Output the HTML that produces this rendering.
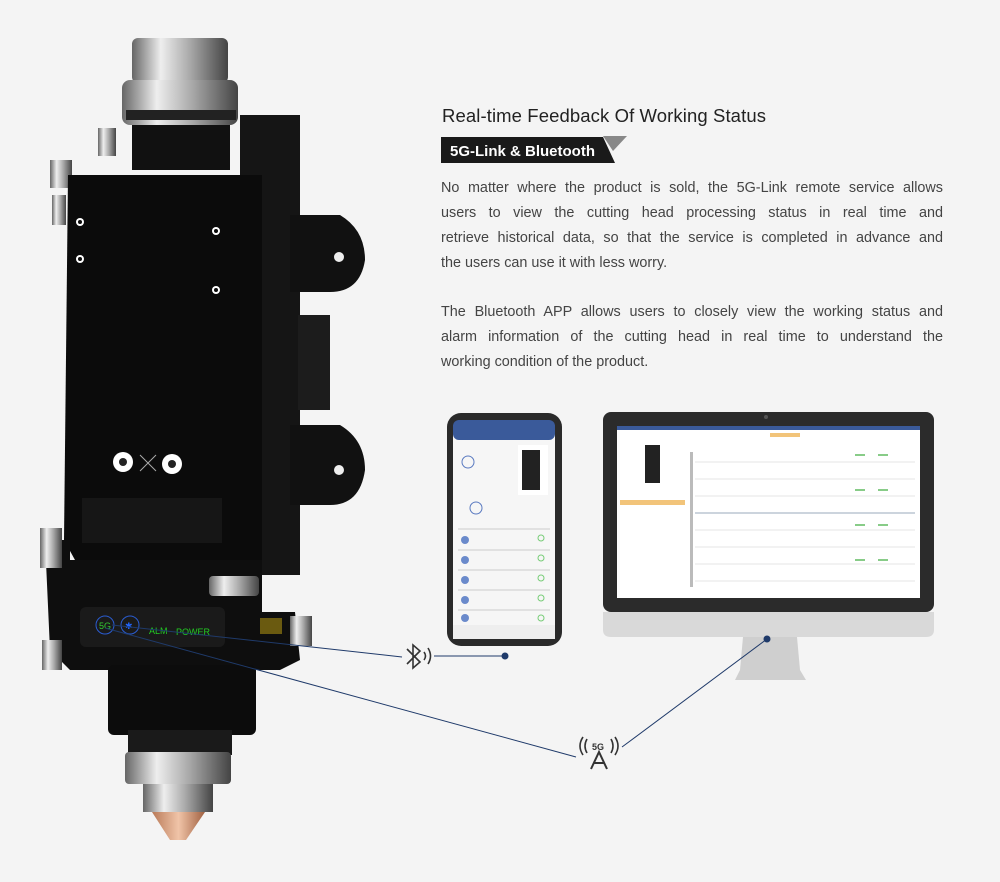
<!DOCTYPE html>
<html><head><meta charset="utf-8"><style>
body{margin:0;width:1000px;height:882px;background:#f4f4f4;position:relative;overflow:hidden;font-family:"Liberation Sans",sans-serif}
.h{position:absolute;left:442px;top:105px;font-size:18.5px;color:#222;letter-spacing:0.1px}
.tag{position:absolute;left:441px;top:136px;height:28px;width:186px}
.p{position:absolute;left:441px;width:502px;font-size:14.4px;line-height:25px;color:#444}
.p div{text-align:justify;text-align-last:justify;white-space:nowrap}
.p div.l{text-align-last:left}
</style></head><body>
<div class="h">Real-time Feedback Of Working Status</div>
<svg class="tag" viewBox="0 0 186 28"><polygon points="162,0 186,0 172,15" fill="#888"/><polygon points="0,1 162,1 174,27 0,27" fill="#1a1a1a"/><text x="9" y="20" font-size="15" font-weight="bold" fill="#fff" font-family="Liberation Sans">5G-Link &amp; Bluetooth</text></svg>
<div class="p" style="top:176px">
<div>No matter where the product is sold, the 5G-Link remote service allows</div>
<div>users to view the cutting head processing status in real time and</div>
<div>retrieve historical data, so that the service is completed in advance and</div>
<div class="l">the users can use it with less worry.</div></div>
<div class="p" style="top:300px">
<div>The Bluetooth APP allows users to closely view the working status and</div>
<div>alarm information of the cutting head in real time to understand the</div>
<div class="l">working condition of the product.</div></div>
<svg style="position:absolute;left:0;top:0" width="1000" height="882">
<defs>
<linearGradient id="sil" x1="0" x2="1"><stop offset="0" stop-color="#666"/><stop offset=".3" stop-color="#eee"/><stop offset=".6" stop-color="#aaa"/><stop offset="1" stop-color="#444"/></linearGradient>
<linearGradient id="cop" x1="0" x2="1"><stop offset="0" stop-color="#b97a58"/><stop offset=".5" stop-color="#f0c4a8"/><stop offset="1" stop-color="#a06040"/></linearGradient>
</defs>
<rect x="132" y="38" width="96" height="45" rx="6" fill="url(#sil)"/>
<rect x="122" y="80" width="116" height="45" rx="8" fill="url(#sil)"/>
<rect x="126" y="110" width="110" height="10" fill="#222"/>
<rect x="132" y="125" width="98" height="45" fill="#111"/>
<rect x="50" y="160" width="22" height="28" fill="url(#sil)"/><rect x="98" y="128" width="18" height="28" fill="url(#sil)"/>
<rect x="52" y="195" width="14" height="30" fill="url(#sil)"/>
<rect x="240" y="115" width="60" height="460" fill="#151515"/>
<path d="M290 215 L340 215 Q365 230 365 260 Q360 292 330 292 L290 292Z" fill="#111"/>
<path d="M290 425 L340 425 Q365 440 365 470 Q360 505 330 505 L290 505Z" fill="#111"/>
<circle cx="339" cy="257" r="5" fill="#eee"/><circle cx="339" cy="470" r="5" fill="#eee"/>
<rect x="298" y="315" width="32" height="95" fill="#1c1c1c"/>
<path d="M68 175 L262 175 L262 560 L75 560 L64 540Z" fill="#0b0b0b"/>
<g fill="#fff"><circle cx="80" cy="222" r="4"/><circle cx="216" cy="231" r="4"/><circle cx="80" cy="259" r="4"/><circle cx="216" cy="290" r="4"/><circle cx="101" cy="519" r="4"/><circle cx="197" cy="526" r="4"/></g>
<g fill="#0b0b0b"><circle cx="80" cy="222" r="2"/><circle cx="216" cy="231" r="2"/><circle cx="80" cy="259" r="2"/><circle cx="216" cy="290" r="2"/><circle cx="101" cy="519" r="2"/><circle cx="197" cy="526" r="2"/></g>
<rect x="82" y="498" width="140" height="45" fill="#161616"/>
<circle cx="123" cy="462" r="10" fill="#fff"/><circle cx="172" cy="464" r="10" fill="#fff"/>
<circle cx="123" cy="462" r="4" fill="#222"/><circle cx="172" cy="464" r="4" fill="#222"/>
<path d="M140 455 L156 471 M156 455 L140 471" stroke="#aaa" stroke-width="1"/>
<path d="M45 540 L70 540 L70 560 L262 560 L262 612 L295 612 L300 660 L280 670 L70 670 L50 650Z" fill="#0e0e0e"/>
<rect x="40" y="528" width="22" height="40" fill="url(#sil)"/>
<rect x="42" y="640" width="20" height="30" fill="url(#sil)"/>
<rect x="290" y="616" width="22" height="30" fill="url(#sil)"/>
<rect x="209" y="576" width="50" height="20" rx="4" fill="url(#sil)"/>
<rect x="80" y="607" width="145" height="40" rx="6" fill="#1a1a1a"/>
<circle cx="105" cy="625" r="9" fill="none" stroke="#2a5cd0" stroke-width="1"/><text x="99" y="629" font-size="9" fill="#3c3" font-family="Liberation Sans">5G</text>
<circle cx="130" cy="625" r="9" fill="none" stroke="#2a5cd0" stroke-width="1"/><text x="125" y="629" font-size="9" fill="#26f">✱</text>
<text x="149" y="634" font-size="9" fill="#2c2" font-family="Liberation Sans">ALM</text><text x="176" y="635" font-size="9" fill="#2c2" font-family="Liberation Sans">POWER</text>
<rect x="260" y="618" width="22" height="16" fill="#6a5a10"/>
<rect x="108" y="665" width="148" height="70" rx="6" fill="#0c0c0c"/>
<rect x="128" y="730" width="104" height="25" fill="#1a1a1a"/>
<rect x="125" y="752" width="106" height="32" rx="4" fill="url(#sil)"/>
<rect x="143" y="784" width="70" height="28" fill="url(#sil)"/>
<path d="M152 812 L205 812 L186 840 L170 840Z" fill="url(#cop)"/>
<rect x="447" y="413" width="115" height="233" rx="14" fill="#2a2a2a"/>
<rect x="453" y="420" width="102" height="219" rx="8" fill="#f6f6f6"/>
<rect x="453" y="420" width="102" height="20" rx="6" fill="#3a5a9a"/>
<rect x="518" y="445" width="30" height="50" fill="#fff"/><rect x="522" y="450" width="18" height="40" fill="#222"/>
<g stroke="#ccc" stroke-width="1"><line x1="458" y1="529" x2="550" y2="529"/><line x1="458" y1="550" x2="550" y2="550"/><line x1="458" y1="570" x2="550" y2="570"/><line x1="458" y1="590" x2="550" y2="590"/><line x1="458" y1="610" x2="550" y2="610"/></g>
<g fill="#6a8acb"><circle cx="468" cy="462" r="6" fill="none" stroke="#5a7ac0"/><circle cx="476" cy="508" r="6" fill="none" stroke="#5a7ac0"/><circle cx="465" cy="540" r="4"/><circle cx="465" cy="560" r="4"/><circle cx="465" cy="580" r="4"/><circle cx="465" cy="600" r="4"/><circle cx="465" cy="618" r="4"/></g>
<g fill="none" stroke="#7c7"><circle cx="541" cy="538" r="3"/><circle cx="541" cy="558" r="3"/><circle cx="541" cy="578" r="3"/><circle cx="541" cy="598" r="3"/><circle cx="541" cy="618" r="3"/></g>
<rect x="453" y="625" width="102" height="14" fill="#eee"/>
<rect x="603" y="412" width="331" height="200" rx="8" fill="#2b2b2b"/>
<path d="M603 612 L934 612 L934 630 Q934 637 926 637 L611 637 Q603 637 603 630Z" fill="#d9d9d9"/>
<path d="M743 637 L797 637 L800 670 L806 680 L735 680 L740 670Z" fill="#cfcfcf"/>
<rect x="617" y="426" width="303" height="172" fill="#fff"/>
<rect x="617" y="426" width="303" height="4" fill="#3a5a9a"/>
<rect x="645" y="445" width="15" height="38" fill="#222"/>
<rect x="620" y="500" width="65" height="5" fill="#f2c47a"/>
<rect x="770" y="433" width="30" height="4" fill="#f2c47a"/>
<rect x="690" y="452" width="3" height="135" fill="#bbb"/>
<g stroke="#e4e4e4"><line x1="695" y1="462" x2="915" y2="462"/><line x1="695" y1="479" x2="915" y2="479"/><line x1="695" y1="496" x2="915" y2="496"/><line x1="695" y1="513" x2="915" y2="513" stroke="#9ab"/><line x1="695" y1="530" x2="915" y2="530"/><line x1="695" y1="547" x2="915" y2="547"/><line x1="695" y1="564" x2="915" y2="564"/><line x1="695" y1="581" x2="915" y2="581"/></g>
<g stroke="#8c8" stroke-width="2"><line x1="855" y1="455" x2="865" y2="455"/><line x1="878" y1="455" x2="888" y2="455"/><line x1="855" y1="490" x2="865" y2="490"/><line x1="878" y1="490" x2="888" y2="490"/><line x1="855" y1="525" x2="865" y2="525"/><line x1="878" y1="525" x2="888" y2="525"/><line x1="855" y1="560" x2="865" y2="560"/><line x1="878" y1="560" x2="888" y2="560"/></g>
<circle cx="766" cy="417" r="2" fill="#555"/>
<g stroke="#1f3a6a" stroke-width="1" fill="none">
<line x1="112" y1="625" x2="402" y2="657"/>
<line x1="434" y1="656" x2="505" y2="656"/>
<line x1="105" y1="628" x2="576" y2="757"/>
<line x1="622" y1="747" x2="767" y2="639"/>
</g>
<circle cx="505" cy="656" r="3.5" fill="#1f3a6a"/><circle cx="767" cy="639" r="3.5" fill="#1f3a6a"/>
<path d="M407 649 L420 662 L413 668 L413 645 L420 651 L407 664" stroke="#333" stroke-width="1.6" fill="none"/>
<path d="M424 652 q3 4 0 8 M428 648 q5 8 0 16" stroke="#333" fill="none" stroke-width="1.6"/>
<path d="M587 739 q-4 7 0 14 M583 737 q-6 9 0 18 M611 739 q4 7 0 14 M615 737 q6 9 0 18" stroke="#333" stroke-width="1.6" fill="none"/>
<text x="592" y="750" font-size="9" font-weight="bold" fill="#333" font-family="Liberation Sans">5G</text>
<path d="M591 769 L599 752 L607 769 M594 763 L604 763" stroke="#333" stroke-width="2" fill="none"/>
</svg>
</body></html>
